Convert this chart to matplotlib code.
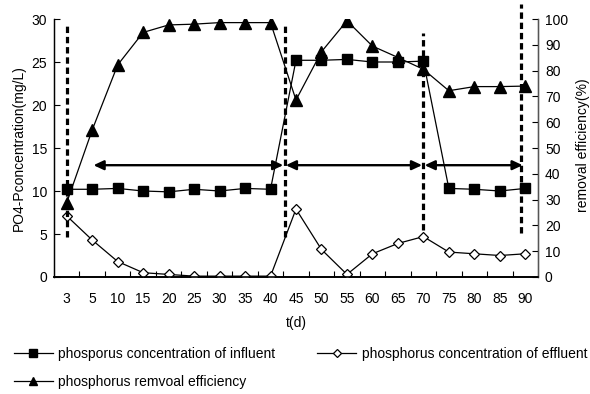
import matplotlib
matplotlib.use("Agg")
import matplotlib.pyplot as plt
import numpy as np

plt.rcParams['font.family'] = ['Liberation Sans', 'DejaVu Sans']
plt.rcParams['font.size'] = 10

days = ['3', '5', '10', '15', '20', '25', '30', '35', '40', '45', '50', '55',
        '60', '65', '70', '75', '80', '85', '90']
influent = [10.2, 10.2, 10.3, 10.0, 9.9, 10.2, 10.0, 10.3, 10.2, 25.2, 25.2, 25.3,
            25.0, 25.0, 25.1, 10.3, 10.2, 10.0, 10.3]
effluent = [7.1, 4.3, 1.8, 0.5, 0.3, 0.1, 0.1, 0.1, 0.1, 7.9, 3.2, 0.3,
            2.7, 3.9, 4.7, 2.9, 2.7, 2.5, 2.7]
efficiency = [28.8, 57.0, 82.2, 94.8, 97.7, 98.0, 98.6, 98.6, 98.6, 68.6, 87.3, 99.3,
              89.5, 85.1, 80.5, 72.2, 73.8, 73.8, 74.0]

# stage boundaries (category positions) and arrows
stage_lines = [0, 8.55, 14, 17.85]
stage_line_ranges = [(4.6, 29.4), (4.6, 29.4), (5.5, 28.4), (5.1, 31.7)]
arrows = [(1.05, 8.5), (8.6, 13.95), (14.05, 17.9)]
arrow_y = 13.0

fig = plt.figure(figsize=(5.9, 3.94), dpi=100)
ax = fig.add_axes([54/590, 1-277/394, (538-54)/590, (277-19)/394])
ax2 = ax.twinx()

x = np.arange(len(days))
ax.plot(x, influent, color='black', lw=0.9, marker='s', ms=6.5,
        mfc='black', mec='black', label='phosporus concentration of influent', zorder=3)
ax.plot(x, effluent, color='black', lw=0.9, marker='D', ms=5.5,
        mfc='white', mec='black', mew=0.9, label='phosphorus concentration of effluent', zorder=3)
ax2.plot(x, efficiency, color='black', lw=0.9, marker='^', ms=8,
         mfc='black', mec='black', label='phosphorus remvoal efficiency', zorder=3)

for xl, (y0, y1) in zip(stage_lines, stage_line_ranges):
    ax.plot([xl, xl], [y0, y1], color='black', lw=2.3, ls=(0, (2.0, 1.2)),
            clip_on=False, zorder=4)

for (a, b) in arrows:
    ax.annotate('', xy=(b, arrow_y), xytext=(a, arrow_y),
                arrowprops=dict(arrowstyle='<|-|>,head_length=0.6,head_width=0.28',
                                color='black', lw=1.7, shrinkA=0, shrinkB=0),
                zorder=5)

ax.set_xlim(-0.5, len(days) - 0.5)
ax.set_ylim(0, 30)
ax2.set_ylim(0, 100)
ax.set_yticks(np.arange(0, 31, 5))
ax2.set_yticks(np.arange(0, 101, 10))
ax.set_xticks(x)
ax.set_xticklabels(days)
ax.set_xticks(np.arange(0.5, len(days) - 0.5, 1), minor=True)
ax.tick_params(axis='x', which='major', length=0, pad=11)
ax.tick_params(axis='x', which='minor', direction='in', length=4, width=0.8)
ax.tick_params(axis='y', direction='in', length=4, width=0.8, pad=5)
ax2.tick_params(axis='y', direction='in', length=4, width=0.8, pad=5)

for a in (ax, ax2):
    a.spines['top'].set_visible(False)
    a.spines['left'].set_linewidth(0.9)
    a.spines['right'].set_linewidth(0.9)
    a.spines['bottom'].set_linewidth(1.2)
ax2.spines['right'].set_color('#555555')

ax.set_ylabel('PO4-Pconcentration(mg/L)', labelpad=4)
ax.set_xlabel('t(d)', labelpad=7)
fig.text(576/590, 1-145/394, 'removal efficiency(%)', rotation=90,
         ha='left', va='center')

h1, l1 = ax.get_legend_handles_labels()
h2, l2 = ax2.get_legend_handles_labels()
handles = [h1[0], h2[0], h1[1]]
labels = [l1[0], l2[0], l1[1]]
leg = fig.legend(handles, labels, loc='upper left', bbox_to_anchor=(14/590, 1-347/394),
                 ncol=2, frameon=False, borderpad=0, borderaxespad=0,
                 handlelength=2.8, handletextpad=0.4, columnspacing=3.0,
                 labelspacing=1.0, markerscale=0.8)

fig.savefig('out.png', dpi=100)
